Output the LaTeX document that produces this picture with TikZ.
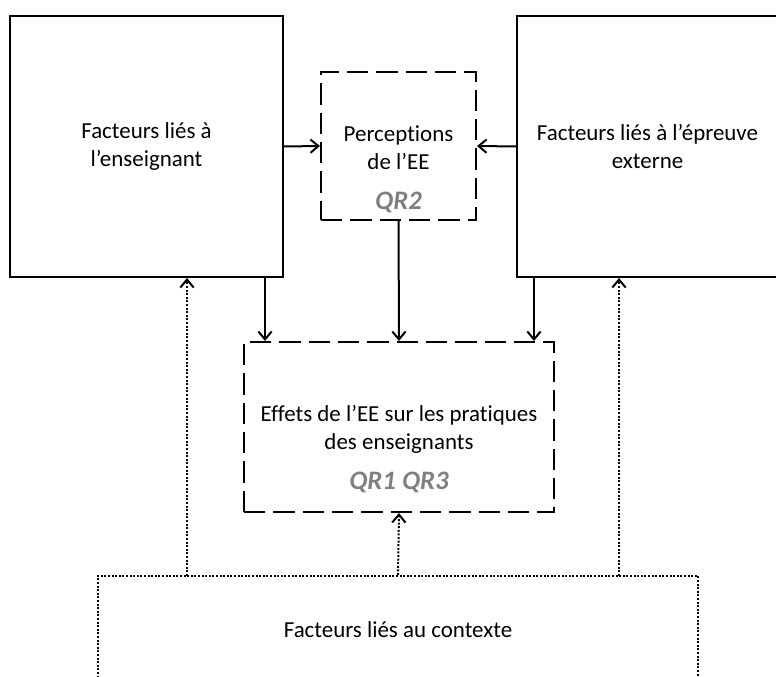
\documentclass[tikz,border=0pt]{standalone}
\usepackage{fontspec}
\setmainfont{Carlito}[Ligatures=NoCommon]
\usetikzlibrary{arrows.meta,calc}

\definecolor{qrgray}{RGB}{128,128,128}
\newcommand{\qrtag}[1]{{\fontsize{20}{22}\selectfont\bfseries\itshape\color{qrgray}#1}}

\tikzset{
  plainbox/.style={draw, line width=1.5pt, align=center},
  dashbox/.style={draw, line width=1.5pt, dash pattern=on 16pt off 6pt},
  dotbox/.style={draw, line width=1.5pt, dash pattern=on 1.5pt off 1.2pt},
  boxtext/.style={align=center, inner sep=0pt},
  solidarrow/.style={line width=1.5pt, -{Straight Barb[length=6pt,width=10pt,line width=1.5pt]}},
  dotarrow/.style={line width=1.5pt, dash pattern=on 1.5pt off 1.2pt,
    -{Straight Barb[length=6pt,width=10pt,line width=1.5pt]}}
}

\begin{document}
\begin{tikzpicture}[x=0.75pt, y=-0.75pt, font=\fontsize{17.2}{20.5}\selectfont]
  \useasboundingbox (0,0) rectangle (776,677);

  % Draw the boxes
  \node[plainbox, minimum width=204.75pt, minimum height=195.75pt] (ens) at (146.5,146.5)
    {Facteurs liés à\\l’enseignant};
  \node[plainbox, minimum width=195.75pt, minimum height=195.75pt] (ext) at (647.5,146.5)
    {Facteurs liés à l’épreuve\\externe};
  \node[dashbox, minimum width=116.25pt, minimum height=111pt] (perc) at (398.5,146) {};
  \node[dashbox, minimum width=232.5pt, minimum height=127.5pt] (eff) at (399,427) {};
  \node[dotbox, minimum width=450pt, minimum height=81pt] (ctx) at (398,630) {};

  % Draw the box texts
  \node[boxtext] (perctext) at (398.5,169.5) {Perceptions\\de l’EE\\[10pt]\qrtag{QR2}};
  \node[boxtext] (efftext) at (399,449.5) {Effets de l’EE sur les pratiques\\des enseignants\\[10pt]\qrtag{QR1 QR3}};
  \node[boxtext] (ctxtext) at (398,630) {Facteurs liés au contexte};

  % Draw the solid arrows
  \draw[solidarrow] (ens.east) -- (perc.west);
  \draw[solidarrow] (ext.west) -- (perc.east);
  \draw[solidarrow] (perc.south) -- (eff.north);
  \coordinate (ensout) at ($(ens.south east)+(-19,0)$);
  \coordinate (extout) at ($(ext.south west)+(18,0)$);
  \draw[solidarrow] (ensout) -- (ensout |- eff.north);
  \draw[solidarrow] (extout) -- (extout |- eff.north);

  % Draw the dotted arrows
  \coordinate (ctxleft) at (187,576);
  \coordinate (ctxright) at (619,576);
  \draw[dotarrow] (ctxleft) -- (ctxleft |- ens.south);
  \draw[dotarrow] (ctx.north) -- (eff.south);
  \draw[dotarrow] (ctxright) -- (ctxright |- ext.south);
\end{tikzpicture}
\end{document}
